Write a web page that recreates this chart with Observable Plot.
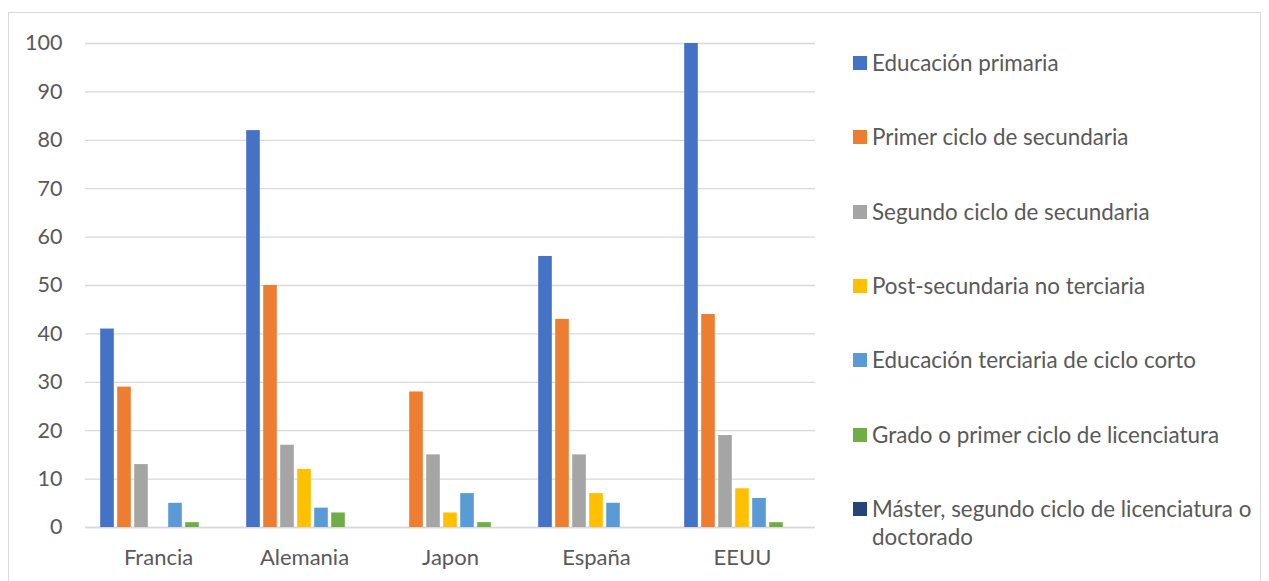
<!DOCTYPE html>
<html>
<head>
<meta charset="utf-8">
<script src="https://cdn.jsdelivr.net/npm/d3@7"></script>
<script src="https://cdn.jsdelivr.net/npm/@observablehq/plot@0.6"></script>
<style>
  html, body { margin: 0; padding: 0; background: #fff; }
  body { width: 1269px; height: 581px; position: relative; overflow: hidden; font-family: Lato, "Open Sans", sans-serif; }
  #frame { position: absolute; left: 8px; top: 12px; width: 1253px; height: 600px; border: 1px solid #d9d9d9; box-sizing: border-box; }
  #chart { position: absolute; left: 0; top: 0; }
  .lg { position: absolute; left: 853px; color: #595959; font-size: 22.4px; line-height: 28px; white-space: nowrap; }
  .lg .sw { position: absolute; left: 0; top: 7px; width: 14px; height: 14px; }
  .lg .tx { position: absolute; left: 19px; top: 0; }
</style>
</head>
<body>
<div id="frame"></div>
<div id="chart"></div>
<div id="legend"></div>
<script>
const countries = ["Francia", "Alemania", "Japon", "España", "EEUU"];
const seriesNames = [
  "Educación primaria",
  "Primer ciclo de secundaria",
  "Segundo ciclo de secundaria",
  "Post-secundaria no terciaria",
  "Educación terciaria de ciclo corto",
  "Grado o primer ciclo de licenciatura",
  "Máster, segundo ciclo de licenciatura o doctorado"
];
const legendLabels = [
  "Educación primaria",
  "Primer ciclo de secundaria",
  "Segundo ciclo de secundaria",
  "Post-secundaria no terciaria",
  "Educación terciaria de ciclo corto",
  "Grado o primer ciclo de licenciatura",
  "Máster, segundo ciclo de licenciatura o<br>doctorado"
];
const colors = ["#4472C4", "#ED7D31", "#A5A5A5", "#FFC000", "#5B9BD5", "#70AD47", "#264478"];

const primaria      = [41, 82, 0, 56, 100];
const primerSec     = [29, 50, 28, 43, 44];
const segundoSec    = [13, 17, 15, 15, 19];
const postSec       = [0, 12, 3, 7, 8];
const terciariaCorta= [5, 4, 7, 5, 6];
const grado         = [1, 3, 1, 0, 1];
const master        = [0, 0, 0, 0, 0];
const yTicks = [0, 10, 20, 30, 40, 50, 60, 70, 80, 90, 100];

const seriesValues = [primaria, primerSec, segundoSec, postSec, terciariaCorta, grado, master];
const data = [];
countries.forEach((c, ci) => {
  seriesNames.forEach((s, si) => {
    data.push({country: c, series: s, value: seriesValues[si][ci]});
  });
});

const chart = Plot.plot({
  width: 830,
  height: 581,
  marginLeft: 85,
  marginRight: 15,
  marginTop: 43,
  marginBottom: 54,
  style: {fontFamily: "Lato, 'Open Sans', sans-serif", fontSize: "22px", color: "#595959", background: "transparent"},
  fx: {domain: countries, paddingInner: 0, paddingOuter: 0, round: false, label: null},
  x: {domain: seriesNames, paddingInner: 0.2, paddingOuter: 0.894, round: false, axis: null},
  y: {domain: [0, 100], label: null},
  color: {domain: seriesNames, range: colors},
  marks: [
    Plot.gridY(yTicks, {stroke: "#d9d9d9", strokeOpacity: 1, strokeWidth: 1.3}),
    Plot.ruleY([0], {stroke: "#d9d9d9", strokeWidth: 1.5}),
    Plot.barY(data, {fx: "country", x: "series", y: "value", fill: "series", filter: d => d.value > 0}),
    Plot.axisY(yTicks, {tickSize: 0, tickPadding: 23, fill: "#595959", fontSize: 21.5, label: null}),
    Plot.axisFx({anchor: "bottom", tickSize: 0, tickPadding: 22, fill: "#595959", fontSize: 22, label: null})
  ]
});
document.getElementById("chart").appendChild(chart);

const legend = document.getElementById("legend");
legendLabels.forEach((lab, i) => {
  const d = document.createElement("div");
  d.className = "lg";
  d.style.top = (63 + i * 74.3 - 14) + "px";
  d.innerHTML = `<div class="sw" style="background:${colors[i]}"></div><div class="tx">${lab}</div>`;
  legend.appendChild(d);
});
</script>
</body>
</html>
